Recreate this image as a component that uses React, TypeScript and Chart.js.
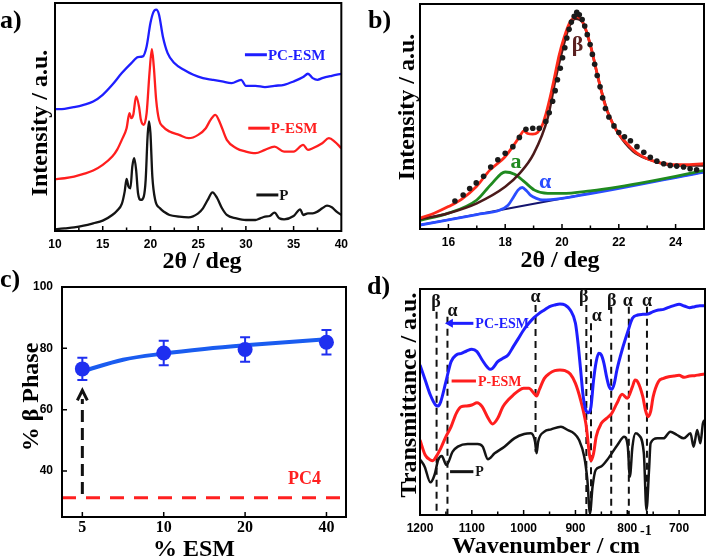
import { useEffect, useRef } from 'react';
import { Chart, registerables } from 'chart.js';
Chart.register(...registerables);

const SANS = '"Liberation Sans", Arial, sans-serif';
const SERIF = '"Liberation Serif", "Times New Roman", serif';
const TITLE_FONT = `bold 24px ${SERIF}`;
const LABEL_FONT = `bold 26px ${SERIF}`;

// ---------- Panel a: XRD ----------
const XRD_P_X = [10,11,12,13,14,15,16,16.5,17,17.3,17.5,17.7,17.9,18.1,18.3,18.5,18.7,19.0,19.3,19.5,19.7,19.85,20.0,20.2,20.5,21,21.5,22,23,24,25,25.5,26,26.5,27,27.5,28,29,30,31,31.5,32,32.5,33,33.5,34,35,35.7,36,36.5,37,37.5,38,38.5,39,39.5,40];
const XRD_P_Y = [5,8,11,16,23,31,48,61,81,118,156,133,128,193,218,183,113,93,103,153,283,328,293,163,93,68,56,48,43,41,53,68,93,116,98,68,48,38,33,33,38,43,45,55,38,35,45,65,48,53,53,58,68,76,71,58,48];
const XRD_PESM_X = [10,11,12,13,14,15,16,16.5,17,17.5,17.8,18.0,18.2,18.5,18.8,19.0,19.3,19.6,19.9,20.15,20.35,20.6,20.9,21.3,22,23,24,25,25.8,26.3,26.8,27.3,28,29,30,31,32,33,34,35,36,36.5,37,38,38.7,39.3,40];
const XRD_PESM_Y = [155,158,163,171,181,198,223,243,273,308,353,338,348,403,373,333,318,353,473,545,493,393,333,313,298,288,278,288,308,333,348,323,273,248,238,233,243,253,238,238,258,243,248,263,278,268,248];
const XRD_PC_X = [10,11,12,13,14,15,16,17,18,18.7,19.2,19.6,20.0,20.3,20.6,20.9,21.3,21.8,22.5,23.5,24.5,25.5,26.5,27.5,28.5,29.5,30,31,32,33,34,35,36,36.5,37,37.5,38,39,40];
const XRD_PC_Y = [365,366,371,378,388,408,438,473,503,521,523,553,623,655,663,648,583,533,503,483,468,458,453,448,443,453,435,435,431,435,438,448,461,471,458,453,458,465,471];
const LEG_A_NAMES = ['PC-ESM', 'P-ESM', 'P'];
const LEG_A_COLORS = ['#1e1eff', '#ff1e1e', '#141414'];
const LEG_A_X0 = [29.9, 30.25, 31.1];
const LEG_A_X1 = [32.2, 32.5, 33.4];
const LEG_A_Y = [528, 308, 108];

// ---------- Panel b: peak fit ----------
const DOT_X = [16.23,16.52,16.75,16.98,17.24,17.49,17.74,18.0,18.27,18.5,18.73,18.97,19.2,19.43,19.55,19.67,19.76,19.84,19.94,20.02,20.1,20.17,20.25,20.33,20.43,20.52,20.61,20.71,20.8,20.89,20.99,21.07,21.15,21.24,21.34,21.43,21.53,21.65,21.83,22.0,22.2,22.41,22.64,22.88,23.11,23.34,23.58,23.81,24.04,24.28,24.51,24.74];
const DOT_Y = [85,103,123,140,160,188,210,230,250,278,303,306,306,326,353,388,420,453,488,520,550,580,606,628,646,658,650,636,616,590,560,530,500,466,432,398,366,340,313,293,280,268,250,233,218,206,198,193,191,188,183,180];
const FIT_X = [15,15.5,16,16.46,16.98,17.45,17.98,18.33,18.56,18.65,18.79,18.97,19.14,19.32,19.43,19.55,19.73,19.9,20.08,20.25,20.43,20.52,20.66,20.83,21.0,21.18,21.36,21.53,21.77,22.0,22.3,22.64,23.0,23.34,23.81,24.28,25];
const FIT_Y = [33,48,68,90,128,178,218,258,288,298,290,288,293,318,348,388,458,528,583,623,643,645,638,608,558,493,428,373,323,288,258,230,213,203,196,195,198];
const BETA_X = [15,16,17,18,18.5,19,19.5,19.78,20,20.25,20.48,20.72,21,21.3,21.6,22,22.5,23,24,25];
const BETA_Y = [30,48,78,128,168,228,338,458,538,613,638,628,558,448,358,288,236,213,193,193];
const AMORPH_X = [15,16,17,17.5,18,18.33,18.68,19.03,19.5,20,21,22,23,24,25];
const AMORPH_Y = [26,48,88,135,173,166,143,118,108,108,116,128,143,160,178];
const ALPHA_X = [15,17,17.8,18.1,18.3,18.45,18.6,18.75,18.9,19.1,19.3,19.6,20,25];
const ALPHA_Y = [12,44,57,72,98,118,126,116,102,93,88,89,93,173];
const BASE_X = [15, 25];
const BASE_Y = [12, 173];
const B_LABELS = ['β', 'a', 'α'];
const B_LABEL_COLORS = ['#5a2020', '#1f8a1f', '#2a4dff'];
const B_LABEL_X = [20.55, 18.38, 19.41];
const B_LABEL_Y = [558, 201, 143];

// ---------- Panel c: % beta phase ----------
const ESM_LABELS = ['5', '10', '20', '40'];
const ESM_IDX = ESM_LABELS.map((_, i) => i);
const BETA_PCT = [73.3, 78.5, 79.6, 82.0];
const BETA_ERR = [3.6, 4.0, 4.0, 4.0];
const FITC_X = [0, 0.5, 1, 1.5, 2, 2.5, 3];
const FITC_Y = [72.5, 76.3, 78.3, 79.8, 81.0, 82.0, 83.0];
const PC4_VALUE = 31.3;
const ARROW_FROM = 32.5;
const ARROW_SHAFT_TOP = 63.5;
const ARROW_TIP = 66.3;
const C_X_MIN = -0.25;
const C_X_MAX = 3.24;
const C_Y_TICKS = [40, 60, 80, 100];

// ---------- Panel d: FTIR ----------
const FT_PC_X = [1200,1190,1180,1170,1165,1160,1150,1140,1130,1120,1110,1100,1090,1080,1070,1065,1060,1050,1040,1030,1020,1010,1000,990,980,970,960,950,940,930,920,910,900,895,890,885,880,875,870,865,860,855,850,845,840,835,830,825,820,810,800,790,780,770,760,750,740,730,720,710,700,690,680,670,660,650];
const FT_PC_Y = [450,405,360,330,327,340,400,460,480,485,492,497,490,465,443,437,440,460,470,480,505,530,555,575,592,605,615,625,630,633,630,615,575,515,435,355,315,307,325,405,460,485,480,455,415,385,377,395,435,495,545,590,600,602,603,610,615,617,623,628,632,627,622,625,628,628];
const FT_PESM_X = [1200,1190,1180,1175,1170,1160,1150,1140,1130,1120,1110,1100,1090,1080,1070,1060,1050,1040,1030,1020,1010,1000,990,980,975,970,960,950,940,930,920,910,900,890,880,870,865,860,850,840,830,820,810,800,790,785,780,770,765,760,755,750,740,730,720,710,700,690,680,670,660,650];
const FT_PESM_Y = [225,180,165,163,172,200,235,265,305,325,327,330,337,325,295,273,290,325,345,360,373,380,380,365,357,375,410,425,433,435,433,423,395,345,275,163,185,235,275,290,305,335,362,350,385,405,400,355,315,295,310,355,400,410,415,417,419,413,417,418,421,423];
const FT_P_X = [1200,1191,1180,1172,1165,1158,1149,1137,1127,1108,1089,1079,1069,1056,1037,1018,999,986,978,975,972,960,947,928,915,903,893,883,877,872,867,861,851,839,819,806,799,795,790,784,778,768,763,758,755,742,730,717,704,691,678,672,665,659,654,650];
const FT_P_Y = [167,145,98,120,165,177,150,190,205,213,213,205,167,185,205,230,243,245,220,185,220,250,257,265,255,245,225,175,105,5,85,135,145,165,210,235,205,115,205,245,240,185,15,135,215,230,230,250,240,230,245,205,255,215,275,285];
const VL_WN = [1168, 1147, 977, 879, 870, 831, 797, 762];
const VL_TOP = [610, 595, 630, 630, 575, 625, 625, 625];
const VL_BOT = [0, 0, 190, 0, 0, 0, 0, 0];
const VL_LABEL = ['β', 'α', 'α', 'β', 'α', 'β', 'α', 'α'];
const VL_LABEL_WN = [1169, 1137, 977, 884, 859, 830, 799, 762];
const VL_LABEL_Y = [637, 612, 652, 652, 597, 642, 642, 642];
const LEG_D_NAMES = ['PC-ESM', 'P-ESM', 'P'];
const LEG_D_COLORS = ['#1e1eff', '#ff1e1e', '#141414'];
const LEG_D_X0 = [1152, 1139, 1142];
const LEG_D_X1 = [1097, 1092, 1097];
const LEG_D_Y = [575, 402, 130];

// ---------- helpers ----------
const pts = (xs: number[], ys: number[]) => xs.map((x, i) => ({ x, y: ys[i] }));

function lineDs(xs: number[], ys: number[], color: string, width = 2.5, extra: any = {}) {
  return {
    data: pts(xs, ys), borderColor: color, backgroundColor: color, borderWidth: width,
    pointRadius: 0, cubicInterpolationMode: 'monotone', fill: false, ...extra,
  };
}

function drawText(ctx: CanvasRenderingContext2D, s: string, x: number, y: number, font: string, color: string,
  align: CanvasTextAlign = 'center', baseline: CanvasTextBaseline = 'alphabetic', rot = 0) {
  ctx.save();
  ctx.translate(x, y);
  if (rot) ctx.rotate(rot);
  ctx.font = font; ctx.fillStyle = color; ctx.textAlign = align; ctx.textBaseline = baseline;
  ctx.fillText(s, 0, 0);
  ctx.restore();
}

function framePlugin(xMajor: number[], xMinor: number[], yMajor: number[] = []) {
  return {
    id: 'frame',
    afterDatasetsDraw(chart: any) {
      const { ctx, chartArea: a } = chart;
      const xs = chart.scales.x, ys = chart.scales.y;
      ctx.save();
      ctx.strokeStyle = '#000';
      ctx.lineWidth = 1.5;
      ctx.beginPath();
      for (const v of xMajor) { const p = xs.getPixelForValue(v); ctx.moveTo(p, a.bottom); ctx.lineTo(p, a.bottom - 5); }
      for (const v of xMinor) { const p = xs.getPixelForValue(v); ctx.moveTo(p, a.bottom); ctx.lineTo(p, a.bottom - 3.5); }
      for (const v of yMajor) { const p = ys.getPixelForValue(v); ctx.moveTo(a.left, p); ctx.lineTo(a.left + 5, p); }
      ctx.stroke();
      ctx.lineWidth = 2;
      ctx.strokeRect(a.left, a.top, a.right - a.left, a.bottom - a.top);
      ctx.restore();
    },
  };
}

function xAxis(min: number, max: number, height: number, ticks: number[], font: any, pad: number, reverse = false, cb?: any) {
  return {
    type: 'linear', min, max, reverse,
    afterFit: (s: any) => { s.height = height; },
    afterBuildTicks: (s: any) => { s.ticks = ticks.map((v) => ({ value: v })); },
    grid: { display: false, drawTicks: false },
    border: { display: false },
    ticks: { font, color: '#000', padding: pad, maxRotation: 0, autoSkip: false, callback: cb ?? ((v: any) => String(v)) },
  };
}

const basePlugins = { legend: { display: false }, tooltip: { enabled: false } };
const tickSans = { family: SANS, size: 12, weight: 'bold' };

// ---------- chart configs ----------
function makeA(canvas: HTMLCanvasElement) {
  return new Chart(canvas, {
    type: 'line',
    data: {
      datasets: [
        lineDs(XRD_PC_X, XRD_PC_Y, '#1e1eff', 2.3),
        lineDs(XRD_PESM_X, XRD_PESM_Y, '#ff1e1e', 2.3),
        lineDs(XRD_P_X, XRD_P_Y, '#141414', 2.3),
      ] as any,
    },
    options: {
      responsive: false, animation: false,
      layout: { padding: { left: 55, right: 12, top: 3, bottom: 10 } },
      scales: {
        x: xAxis(10, 40, 39, [10, 15, 20, 25, 30, 35, 40], tickSans, 6) as any,
        y: { type: 'linear', min: 0, max: 683, display: false },
      },
      plugins: basePlugins as any,
    },
    plugins: [
      framePlugin([15, 20, 25, 30, 35], [12.5, 17.5, 22.5, 27.5, 32.5, 37.5]),
      {
        id: 'annA',
        afterDraw(chart: any) {
          const { ctx } = chart; const xs = chart.scales.x, ys = chart.scales.y;
          LEG_A_NAMES.forEach((n, i) => {
            const y = ys.getPixelForValue(LEG_A_Y[i]);
            const x0 = xs.getPixelForValue(LEG_A_X0[i]), x1 = xs.getPixelForValue(LEG_A_X1[i]);
            ctx.save(); ctx.strokeStyle = LEG_A_COLORS[i]; ctx.lineWidth = 3;
            ctx.beginPath(); ctx.moveTo(x0, y); ctx.lineTo(x1, y); ctx.stroke(); ctx.restore();
            drawText(ctx, n, x1 + 1, y + 1, `bold 15px ${SERIF}`, LEG_A_COLORS[i], 'left', 'middle');
          });
          drawText(ctx, '2θ / deg', 202, 268, TITLE_FONT, '#000');
          drawText(ctx, 'Intensity / a.u.', 47, 123, TITLE_FONT, '#000', 'center', 'alphabetic', -Math.PI / 2);
          drawText(ctx, 'a)', 0, 28, LABEL_FONT, '#000', 'left');
        },
      },
    ],
  } as any);
}

function makeB(canvas: HTMLCanvasElement) {
  return new Chart(canvas, {
    type: 'line',
    data: {
      datasets: [
        { data: pts(DOT_X, DOT_Y), showLine: false, pointRadius: 2.8, pointBackgroundColor: '#1a1a1a', pointBorderWidth: 0 },
        lineDs(FIT_X, FIT_Y, '#ff2a1a', 2.8),
        lineDs(BETA_X, BETA_Y, '#4b1a1a', 2.5),
        lineDs(AMORPH_X, AMORPH_Y, '#1f8a1f', 2.8),
        lineDs(ALPHA_X, ALPHA_Y, '#2a4dff', 2.8),
        lineDs(BASE_X, BASE_Y, '#14146e', 2),
      ] as any,
    },
    options: {
      responsive: false, animation: false,
      layout: { padding: { left: 66, right: 3, top: 3, bottom: 10 } },
      scales: {
        x: xAxis(15, 25, 41, [16, 18, 20, 22, 24], tickSans, 6) as any,
        y: { type: 'linear', min: 0, max: 683, display: false },
      },
      plugins: basePlugins as any,
    },
    plugins: [
      framePlugin([16, 18, 20, 22, 24], [17, 19, 21, 23]),
      {
        id: 'annB',
        afterDraw(chart: any) {
          const { ctx } = chart; const xs = chart.scales.x, ys = chart.scales.y;
          B_LABELS.forEach((s, i) => {
            drawText(ctx, s, xs.getPixelForValue(B_LABEL_X[i]), ys.getPixelForValue(B_LABEL_Y[i]), `bold 22px ${SERIF}`, B_LABEL_COLORS[i], 'center', 'middle');
          });
          drawText(ctx, '2θ / deg', 206, 267, TITLE_FONT, '#000');
          drawText(ctx, 'Intensity / a.u.', 60, 107, TITLE_FONT, '#000', 'center', 'alphabetic', -Math.PI / 2);
          drawText(ctx, 'b)', 14, 28, LABEL_FONT, '#000', 'left');
        },
      },
    ],
  } as any);
}

function makeC(canvas: HTMLCanvasElement) {
  return new Chart(canvas, {
    type: 'line',
    data: {
      datasets: [
        { data: pts(ESM_IDX, BETA_PCT), showLine: false, pointRadius: 7.5, pointBackgroundColor: '#1f2ff0', pointBorderWidth: 0 },
        lineDs(FITC_X, FITC_Y, '#1a5cf0', 4),
        { data: [{ x: C_X_MIN, y: PC4_VALUE }, { x: C_X_MAX, y: PC4_VALUE }], borderColor: '#ff2020', borderWidth: 3, borderDash: [14, 10], pointRadius: 0 },
        { data: [{ x: ESM_IDX[0], y: ARROW_FROM }, { x: ESM_IDX[0], y: ARROW_SHAFT_TOP }], borderColor: '#111', borderWidth: 3, borderDash: [12, 6], pointRadius: 0 },
      ] as any,
    },
    options: {
      responsive: false, animation: false,
      layout: { padding: { left: 0, right: 8, top: 17, bottom: 0 } },
      scales: {
        x: xAxis(C_X_MIN, C_X_MAX, 41, ESM_IDX, { family: SERIF, size: 16, weight: 'bold' }, 1, false, (_v: any, i: number) => ESM_LABELS[i]) as any,
        y: {
          type: 'linear', min: 25, max: 100,
          afterFit: (s: any) => { s.width = 62; },
          afterBuildTicks: (s: any) => { s.ticks = C_Y_TICKS.map((v) => ({ value: v })); },
          grid: { display: false, drawTicks: false },
          border: { display: false },
          ticks: { font: tickSans, color: '#000', padding: 9 },
        },
      },
      plugins: basePlugins as any,
    },
    plugins: [
      framePlugin(ESM_IDX, [], C_Y_TICKS),
      {
        id: 'errC',
        beforeDatasetsDraw(chart: any) {
          const { ctx } = chart; const xs = chart.scales.x, ys = chart.scales.y;
          ctx.save(); ctx.strokeStyle = '#1f2ff0'; ctx.lineWidth = 2; ctx.beginPath();
          BETA_PCT.forEach((v, i) => {
            const x = xs.getPixelForValue(ESM_IDX[i]);
            const yt = ys.getPixelForValue(v + BETA_ERR[i]), yb = ys.getPixelForValue(v - BETA_ERR[i]);
            ctx.moveTo(x, yt); ctx.lineTo(x, yb);
            ctx.moveTo(x - 5, yt); ctx.lineTo(x + 5, yt);
            ctx.moveTo(x - 5, yb); ctx.lineTo(x + 5, yb);
          });
          ctx.stroke(); ctx.restore();
        },
        afterDraw(chart: any) {
          const { ctx } = chart; const xs = chart.scales.x, ys = chart.scales.y;
          const ax = xs.getPixelForValue(ESM_IDX[0]); const at = ys.getPixelForValue(ARROW_TIP);
          ctx.save(); ctx.strokeStyle = '#111'; ctx.lineWidth = 3; ctx.lineJoin = 'miter';
          ctx.beginPath(); ctx.moveTo(ax - 5, at + 10); ctx.lineTo(ax, at); ctx.lineTo(ax + 5, at + 10); ctx.stroke(); ctx.restore();
          drawText(ctx, 'PC4', xs.getPixelForValue(2.73), ys.getPixelForValue(37.3), `bold 18px ${SERIF}`, '#ff2020', 'center', 'middle');
          drawText(ctx, '% ESM', 194, 286, TITLE_FONT, '#000');
          drawText(ctx, '% β Phase', 38, 127, TITLE_FONT, '#000', 'center', 'alphabetic', -Math.PI / 2);
          drawText(ctx, 'c)', 0, 17, LABEL_FONT, '#000', 'left');
        },
      },
    ],
  } as any);
}

function makeD(canvas: HTMLCanvasElement) {
  return new Chart(canvas, {
    type: 'line',
    data: {
      datasets: [
        lineDs(FT_PC_X, FT_PC_Y, '#1e1eff', 3),
        lineDs(FT_PESM_X, FT_PESM_Y, '#ff1e1e', 3),
        lineDs(FT_P_X, FT_P_Y, '#141414', 2.5),
      ] as any,
    },
    options: {
      responsive: false, animation: false,
      layout: { padding: { left: 66, right: 3, top: 19, bottom: 0 } },
      scales: {
        x: xAxis(650, 1200, 43, [1200, 1100, 1000, 900, 800, 700], tickSans, 6, true) as any,
        y: { type: 'linear', min: 0, max: 678, display: false },
      },
      plugins: basePlugins as any,
    },
    plugins: [
      framePlugin([1100, 1000, 900, 800, 700], [1150, 1050, 950, 850, 750]),
      {
        id: 'annD',
        beforeDatasetsDraw(chart: any) {
          const { ctx } = chart; const xs = chart.scales.x, ys = chart.scales.y;
          ctx.save(); ctx.strokeStyle = '#111'; ctx.lineWidth = 2; ctx.setLineDash([7, 5]);
          VL_WN.forEach((w, i) => {
            const x = xs.getPixelForValue(w);
            ctx.beginPath(); ctx.moveTo(x, ys.getPixelForValue(VL_TOP[i])); ctx.lineTo(x, ys.getPixelForValue(VL_BOT[i])); ctx.stroke();
          });
          ctx.restore();
        },
        afterDraw(chart: any) {
          const { ctx } = chart; const xs = chart.scales.x, ys = chart.scales.y;
          VL_LABEL.forEach((s, i) => {
            drawText(ctx, s, xs.getPixelForValue(VL_LABEL_WN[i]), ys.getPixelForValue(VL_LABEL_Y[i]), `bold 18px ${SERIF}`, '#111', 'center', 'middle');
          });
          LEG_D_NAMES.forEach((n, i) => {
            const y = ys.getPixelForValue(LEG_D_Y[i]);
            const x0 = xs.getPixelForValue(LEG_D_X0[i]), x1 = xs.getPixelForValue(LEG_D_X1[i]);
            ctx.save(); ctx.strokeStyle = LEG_D_COLORS[i]; ctx.fillStyle = LEG_D_COLORS[i]; ctx.lineWidth = 3;
            ctx.beginPath(); ctx.moveTo(i === 0 ? x0 + 6 : x0, y); ctx.lineTo(x1, y); ctx.stroke();
            if (i === 0) { ctx.beginPath(); ctx.moveTo(x0, y); ctx.lineTo(x0 + 8, y - 4.5); ctx.lineTo(x0 + 8, y + 4.5); ctx.closePath(); ctx.fill(); }
            ctx.restore();
            drawText(ctx, n, x1 + 2, y + 1, `bold 14px ${SERIF}`, LEG_D_COLORS[i], 'left', 'middle');
          });
          drawText(ctx, 'Wavenumber / cm', 98, 283, TITLE_FONT, '#000', 'left');
          drawText(ctx, '-1', 286, 265, `bold 14px ${SERIF}`, '#000', 'left');
          drawText(ctx, 'Transmittance / a.u.', 62, 125, TITLE_FONT, '#000', 'center', 'alphabetic', -Math.PI / 2);
          drawText(ctx, 'd)', 13, 24, LABEL_FONT, '#000', 'left');
        },
      },
    ],
  } as any);
}

function Panel({ left, top, width, height, make }: { left: number; top: number; width: number; height: number; make: (c: HTMLCanvasElement) => Chart }) {
  const ref = useRef<HTMLCanvasElement>(null);
  useEffect(() => {
    const chart = make(ref.current!);
    return () => chart.destroy();
  }, []);
  return <canvas ref={ref} width={width} height={height} style={{ position: 'absolute', left, top, width, height }} />;
}

export default function App() {
  return (
    <div style={{ position: 'absolute', left: 0, top: 0, width: 708, height: 558, background: '#fff', overflow: 'hidden' }}>
      <Panel left={0} top={0} width={354} height={280} make={makeA} />
      <Panel left={354} top={0} width={354} height={280} make={makeB} />
      <Panel left={0} top={270} width={354} height={288} make={makeC} />
      <Panel left={354} top={270} width={354} height={288} make={makeD} />
    </div>
  );
}
